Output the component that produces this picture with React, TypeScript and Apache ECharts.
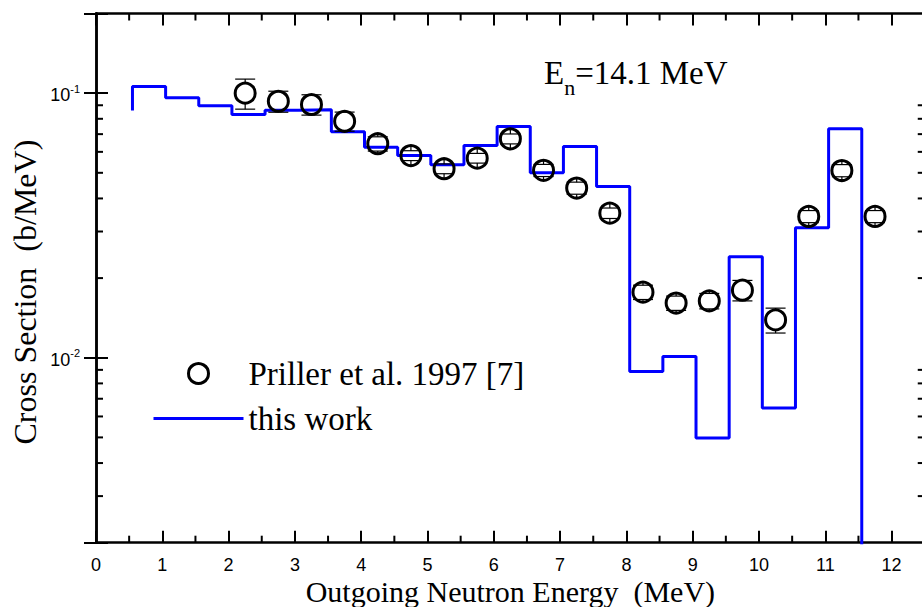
import { useEffect, useRef } from "react";
import * as echarts from "echarts";

// Axis ranges
const X_MIN = 0;
const X_MAX = 12.5;
const Y_MIN = 0.002;
const Y_MAX = 0.2;

// Measured points (Priller et al. 1997): centre energy (MeV), cross section (b/MeV), uncertainty
const energies = [2.25, 2.75, 3.25, 3.75, 4.25, 4.75, 5.25, 5.75, 6.25, 6.75, 7.25, 7.75, 8.25, 8.75, 9.25, 9.75, 10.25, 10.75, 11.25, 11.75];
const measured = [0.1, 0.0932, 0.0906, 0.0783, 0.0644, 0.0581, 0.0518, 0.0568, 0.0672, 0.0511, 0.0438, 0.0352, 0.0177, 0.0161, 0.0164, 0.018, 0.0139, 0.0342, 0.051, 0.0342];
const measuredErr = [0.013, 0.0085, 0.008, 0.0065, 0.004, 0.0025, 0.0022, 0.0024, 0.0029, 0.0027, 0.0023, 0.0016, 0.0011, 0.001, 0.0011, 0.0016, 0.0015, 0.0018, 0.0027, 0.0018];

// Calculated spectrum ("this work"): histogram bin edges and bin contents
const binEdges = [0.55, 1.05, 1.55, 2.05, 2.55, 3.05, 3.55, 4.05, 4.55, 5.05, 5.55, 6.05, 6.55, 7.05, 7.55, 8.05, 8.55, 9.05, 9.55, 10.05, 10.55, 11.05, 11.55];
const calcValues = [0.106, 0.0961, 0.0896, 0.0831, 0.0862, 0.0866, 0.0714, 0.0625, 0.0581, 0.0536, 0.0634, 0.0748, 0.05, 0.0628, 0.0444, 0.00888, 0.0101, 0.00497, 0.0241, 0.00646, 0.031, 0.0733];
const calcStart = 0.086;
const calcEnd = 1e-4;

// Tick positions
const xMinorTicks = [0.5, 1.5, 2.5, 3.5, 4.5, 5.5, 6.5, 7.5, 8.5, 9.5, 10.5, 11.5];
const yMinorTicks: number[] = [];
for (const decade of [0.001, 0.01, 0.1]) {
  for (let m = 2; m <= 9; m++) {
    const v = +(m * decade).toPrecision(3);
    if (v > Y_MIN && v < Y_MAX) yMinorTicks.push(v);
  }
}
const yLabelExponents = [-1, -2];

const SERIF = "Liberation Serif";
const SANS = "Liberation Sans";
const BLUE = "#0000ff";

export default function App() {
  const ref = useRef<HTMLDivElement>(null);

  useEffect(() => {
    if (!ref.current) return;
    const chart = echarts.init(ref.current, undefined, { renderer: "svg" });

    const stepPoints: [number, number][] = [[binEdges[0], calcStart]];
    calcValues.forEach((v, i) => {
      stepPoints.push([binEdges[i], v], [binEdges[i + 1], v]);
    });
    stepPoints.push([binEdges[binEdges.length - 1], calcEnd]);

    const points = energies.map((e, i) => [e, measured[i], measuredErr[i]]);

    const axisLine = { show: true, lineStyle: { color: "#000", width: 2.5 } };
    const majorTick = { show: true, inside: true, length: 12, lineStyle: { color: "#000", width: 2 } };

    const xBase = {
      type: "value" as const,
      min: X_MIN,
      max: X_MAX,
      interval: 1,
      axisLine,
      axisTick: majorTick,
      splitLine: { show: false },
    };
    const yBase = {
      type: "log" as const,
      logBase: 10,
      min: Y_MIN,
      max: Y_MAX,
      axisLine,
      axisTick: majorTick,
      splitLine: { show: false },
    };

    const tickStyle = { stroke: "#000", lineWidth: 2 };
    const MINOR = 7;

    chart.setOption({
      animation: false,
      backgroundColor: "#fff",
      grid: {
        left: 96,
        top: 13.5,
        right: -2.75,
        bottom: 64.3,
        containLabel: false,
        outerBoundsMode: "none",
      },
      title: {
        text: "{e|E}{n|n}{e|=14.1 MeV}",
        left: 544,
        top: 56,
        padding: 0,
        textStyle: {
          fontWeight: "normal",
          rich: {
            e: { fontFamily: SERIF, fontSize: 33, fontWeight: "normal", lineHeight: 36, color: "#000", verticalAlign: "top" },
            n: { fontFamily: SERIF, fontSize: 22, fontWeight: "normal", lineHeight: 22, color: "#000", verticalAlign: "top", padding: [20, 0, 0, 0] },
          },
        },
      },
      legend: {
        orient: "vertical",
        left: 152,
        top: 357,
        padding: 0,
        itemWidth: 90,
        itemHeight: 20,
        itemGap: 12,
        textStyle: { fontFamily: SERIF, fontSize: 33, lineHeight: 26, color: "#000" },
        data: [
          {
            name: "Priller et al. 1997 [7]",
            icon: "circle",
            itemStyle: { color: "rgba(0,0,0,0)", borderColor: "#000", borderWidth: 3 },
          },
          {
            name: "this work",
            lineStyle: { color: BLUE, width: 3 },
            itemStyle: { color: "rgba(0,0,0,0)", borderColor: "rgba(0,0,0,0)", borderWidth: 0, opacity: 0 },
          },
        ],
      },
      xAxis: [
        {
          ...xBase,
          position: "bottom",
          axisLabel: {
            margin: 13,
            fontFamily: SANS,
            fontSize: 18,
            color: "#000",
            formatter: (v: number) => (Number.isInteger(v) ? String(v) : ""),
          },
          name: "Outgoing Neutron Energy  (MeV)",
          nameLocation: "middle",
          nameGap: 33,
          nameMoveOverlap: false,
          nameTextStyle: { fontFamily: SERIF, fontSize: 30, lineHeight: 32, color: "#000" },
        },
        { ...xBase, position: "top", axisLabel: { show: false } },
      ],
      yAxis: [
        {
          ...yBase,
          position: "left",
          axisLabel: {
            margin: 16,
            formatter: (v: number) => {
              const ex = Math.round(Math.log10(v));
              if (Math.abs(Math.log10(v) - ex) > 1e-6 || !yLabelExponents.includes(ex)) return "";
              return `{b|10}{s|${ex}}`;
            },
            rich: {
              b: { fontFamily: SANS, fontSize: 18, lineHeight: 20, color: "#000", padding: [4, 0, 0, 0] },
              s: { fontFamily: SANS, fontSize: 11, lineHeight: 11, color: "#000", verticalAlign: "top" },
            },
          },
          name: "Cross Section  (b/MeV)",
          nameLocation: "middle",
          nameGap: 55,
          nameRotate: 90,
          nameMoveOverlap: false,
          nameTextStyle: { fontFamily: SERIF, fontSize: 32, color: "#000", padding: [0, 28, 0, 0] },
        },
        { ...yBase, position: "right", axisLabel: { show: false } },
      ],
      series: [
        {
          name: "this work",
          type: "line",
          data: stepPoints,
          symbol: "none",
          lineStyle: { color: BLUE, width: 3 },
          itemStyle: { color: BLUE },
          z: 2,
        },
        {
          name: "errors",
          type: "custom",
          data: points,
          encode: { x: 0, y: 1 },
          z: 3,
          clip: false,
          renderItem: (_p: any, api: any) => {
            const x = api.value(0);
            const y = api.value(1);
            const e = api.value(2);
            const c = api.coord([x, y]);
            const hi = api.coord([x, y + e]);
            const lo = api.coord([x, y - e]);
            const r = 10;
            const w = 10;
            const style = { stroke: "#000", lineWidth: 1.2 };
            return {
              type: "group",
              children: [
                { type: "line", shape: { x1: c[0], y1: c[1] - r, x2: c[0], y2: hi[1] }, style },
                { type: "line", shape: { x1: c[0] - w, y1: hi[1], x2: c[0] + w, y2: hi[1] }, style },
                { type: "line", shape: { x1: c[0], y1: c[1] + r, x2: c[0], y2: lo[1] }, style },
                { type: "line", shape: { x1: c[0] - w, y1: lo[1], x2: c[0] + w, y2: lo[1] }, style },
              ],
            };
          },
        },
        {
          name: "Priller et al. 1997 [7]",
          type: "scatter",
          data: points.map((p) => [p[0], p[1]]),
          symbol: "circle",
          symbolSize: 20,
          itemStyle: { color: "rgba(0,0,0,0)", borderColor: "#000", borderWidth: 3, opacity: 1 },
          z: 4,
        },
        {
          name: "x minor ticks",
          type: "custom",
          data: xMinorTicks.map((v) => [v, Y_MIN]),
          encode: { x: 0, y: 1 },
          z: 5,
          clip: false,
          silent: true,
          renderItem: (_p: any, api: any) => {
            const b = api.coord([api.value(0), Y_MIN]);
            const t = api.coord([api.value(0), Y_MAX]);
            return {
              type: "group",
              children: [
                { type: "line", shape: { x1: b[0], y1: b[1], x2: b[0], y2: b[1] - MINOR }, style: tickStyle },
                { type: "line", shape: { x1: t[0], y1: t[1], x2: t[0], y2: t[1] + MINOR }, style: tickStyle },
              ],
            };
          },
        },
        {
          name: "y minor ticks",
          type: "custom",
          data: yMinorTicks.map((v) => [X_MIN, v]),
          encode: { x: 0, y: 1 },
          z: 5,
          clip: false,
          silent: true,
          renderItem: (_p: any, api: any) => {
            const l = api.coord([X_MIN, api.value(1)]);
            const r = api.coord([X_MAX, api.value(1)]);
            return {
              type: "group",
              children: [
                { type: "line", shape: { x1: l[0], y1: l[1], x2: l[0] + MINOR, y2: l[1] }, style: tickStyle },
                { type: "line", shape: { x1: r[0], y1: r[1], x2: r[0] - MINOR, y2: r[1] }, style: tickStyle },
              ],
            };
          },
        },
      ],
    });

    return () => chart.dispose();
  }, []);

  return (
    <div
      ref={ref}
      style={{ position: "absolute", left: 0, top: 0, width: 922, height: 607, background: "#fff" }}
    />
  );
}
